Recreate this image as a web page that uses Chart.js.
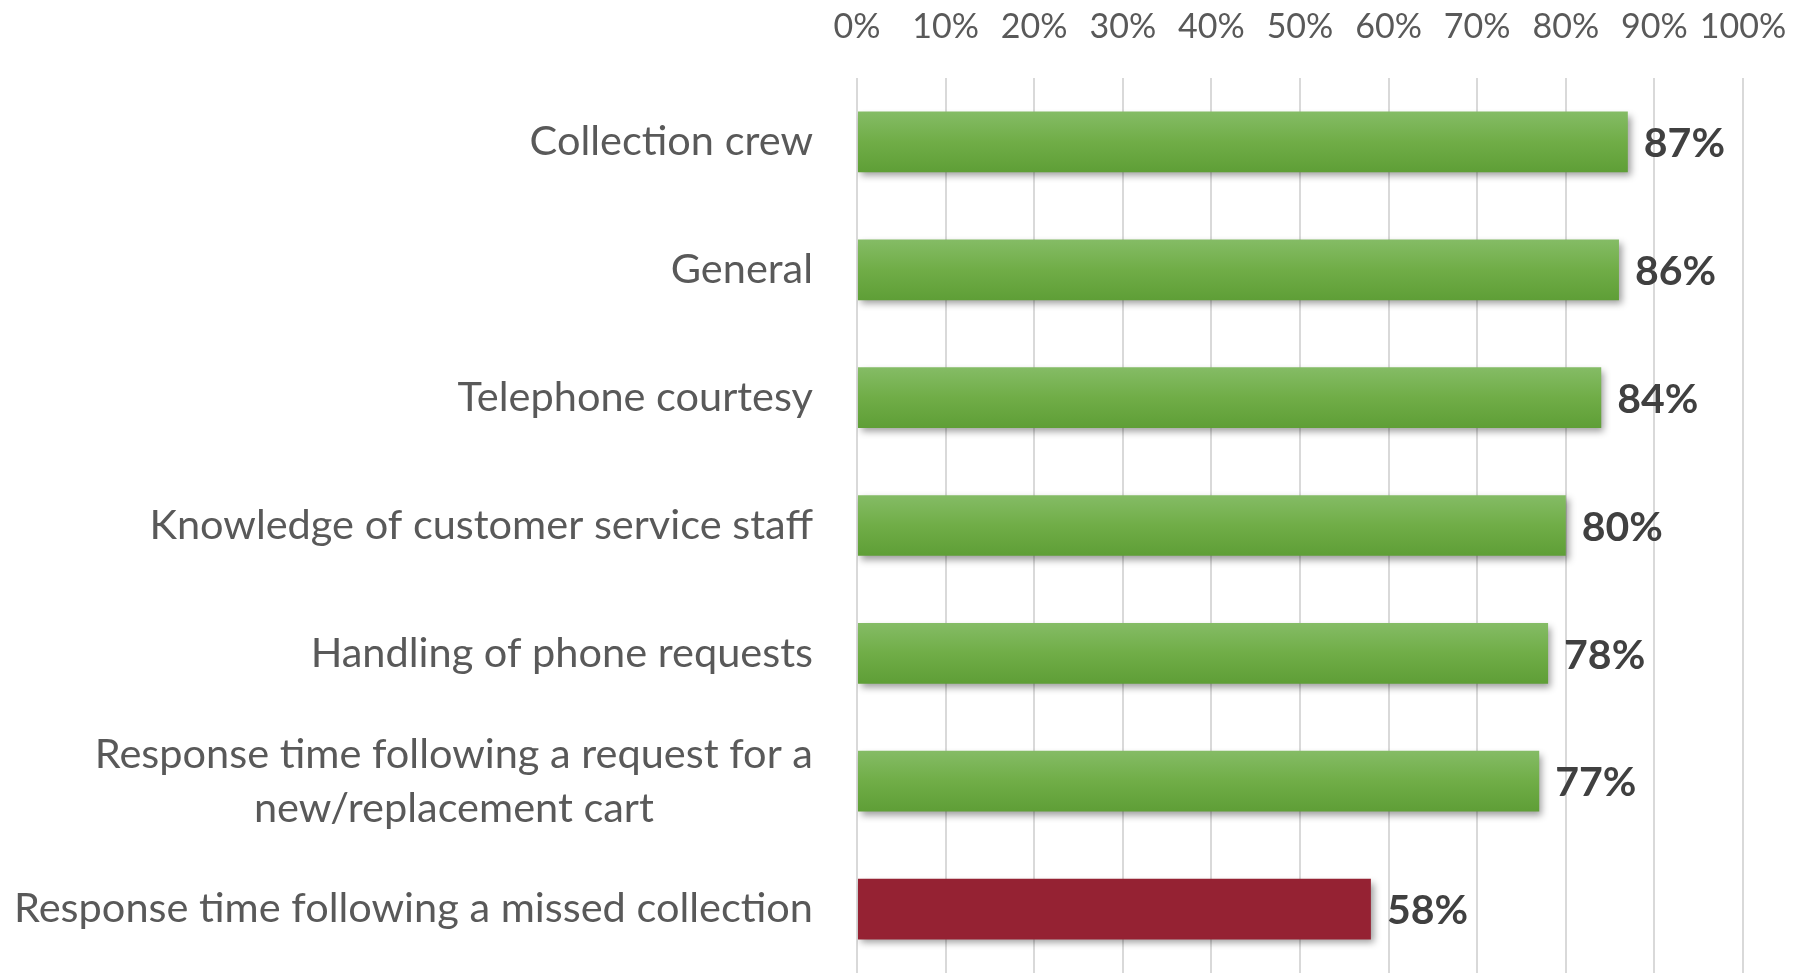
<!DOCTYPE html>
<html>
<head>
<meta charset="utf-8">
<title>Satisfaction by service area</title>
<script src="https://cdn.jsdelivr.net/npm/chart.js@4/dist/chart.umd.min.js"></script>
<style>
  html, body { margin: 0; padding: 0; background: #fff; }
  #wrap { width: 1809px; height: 973px; }
</style>
</head>
<body>
<div id="wrap"><canvas id="bar_chart" width="1809" height="973"></canvas></div>
<script>
// survey results, % satisfied
var categories = [
  'Collection crew',
  'General',
  'Telephone courtesy',
  'Knowledge of customer service staff',
  'Handling of phone requests',
  ['Response time following a request for a', 'new/replacement cart'],
  'Response time following a missed collection'
];
var satisfied = [87, 86, 84, 80, 78, 77, 58];
var tickMin = 0, tickMax = 100, tickStep = 10;

var FONT = 'Lato, "Noto Sans", sans-serif';
var LOW = 70; // anything under this gets the red bar

function barFill(ctx) {
  var v = ctx.raw;
  if (v < LOW) return '#952233';
  var chart = ctx.chart;
  if (!chart.chartArea) return '#70ad47';
  var y = chart.scales.y.getPixelForValue(ctx.dataIndex);
  var g = chart.ctx.createLinearGradient(0, y - 31, 0, y + 31);
  g.addColorStop(0, '#85bc66');
  g.addColorStop(0.5, '#70ad47');
  g.addColorStop(1, '#5e9e36');
  return g;
}

// soft drop shadow under the bars
var barShadow = {
  id: 'barShadow',
  beforeDatasetsDraw: function (chart) {
    var c = chart.ctx;
    c.save();
    c.shadowColor = 'rgba(0,0,0,0.38)';
    c.shadowBlur = 7;
    c.shadowOffsetX = 3;
    c.shadowOffsetY = 4;
  },
  afterDatasetsDraw: function (chart) {
    chart.ctx.restore();
  }
};

// category names: block right-aligned, lines centred inside the block
var catLabels = {
  id: 'catLabels',
  afterDraw: function (chart) {
    var c = chart.ctx, ys = chart.scales.y;
    var right = chart.chartArea.left - 44;
    var lh = 54;
    c.save();
    c.font = '41.5px ' + FONT;
    c.fillStyle = '#595959';
    c.textAlign = 'center';
    c.textBaseline = 'middle';
    categories.forEach(function (lab, i) {
      var lines = Array.isArray(lab) ? lab : [lab];
      var widest = 0;
      lines.forEach(function (l) { widest = Math.max(widest, c.measureText(l).width); });
      var cx = right - widest / 2;
      var cy = ys.getPixelForValue(i);
      var y0 = cy - (lines.length - 1) * lh / 2;
      lines.forEach(function (l, k) { c.fillText(l, cx, y0 + k * lh); });
    });
    c.restore();
  }
};

// value at the end of each bar
var valueLabels = {
  id: 'valueLabels',
  afterDatasetsDraw: function (chart) {
    var c = chart.ctx;
    var meta = chart.getDatasetMeta(0);
    c.save();
    c.font = 'bold 41px ' + FONT;
    c.fillStyle = '#404040';
    c.textAlign = 'left';
    c.textBaseline = 'middle';
    meta.data.forEach(function (bar, i) {
      c.fillText(satisfied[i] + '%', bar.x + 16, bar.y + 2);
    });
    c.restore();
  }
};

new Chart(document.getElementById('bar_chart'), {
  type: 'bar',
  data: {
    labels: categories,
    datasets: [{
      data: satisfied,
      backgroundColor: barFill,
      borderWidth: 0,
      barPercentage: 0.475,
      categoryPercentage: 1
    }]
  },
  options: {
    indexAxis: 'y',
    responsive: false,
    animation: false,
    devicePixelRatio: 1,
    layout: { padding: { left: 0, right: 66, top: 0, bottom: 0 } },
    plugins: {
      legend: { display: false },
      tooltip: { enabled: false },
      title: { display: false }
    },
    scales: {
      x: {
        position: 'top',
        min: tickMin,
        max: tickMax,
        ticks: {
          stepSize: tickStep,
          autoSkip: false,
          padding: 31,
          color: '#595959',
          font: { family: FONT, size: 34 },
          maxRotation: 0,
          callback: function (v) { return v + '%'; }
        },
        grid: { color: '#d9d9d9', lineWidth: 2, drawTicks: false },
        border: { display: false },
        afterFit: function (s) {
          s.height = 78;
          s.paddingLeft = 0;
          s.paddingRight = 0;
        }
      },
      y: {
        ticks: { display: false },
        grid: { display: false },
        border: { display: false },
        afterFit: function (s) { s.width = 857; }
      }
    }
  },
  plugins: [barShadow, catLabels, valueLabels]
});
</script>
</body>
</html>
